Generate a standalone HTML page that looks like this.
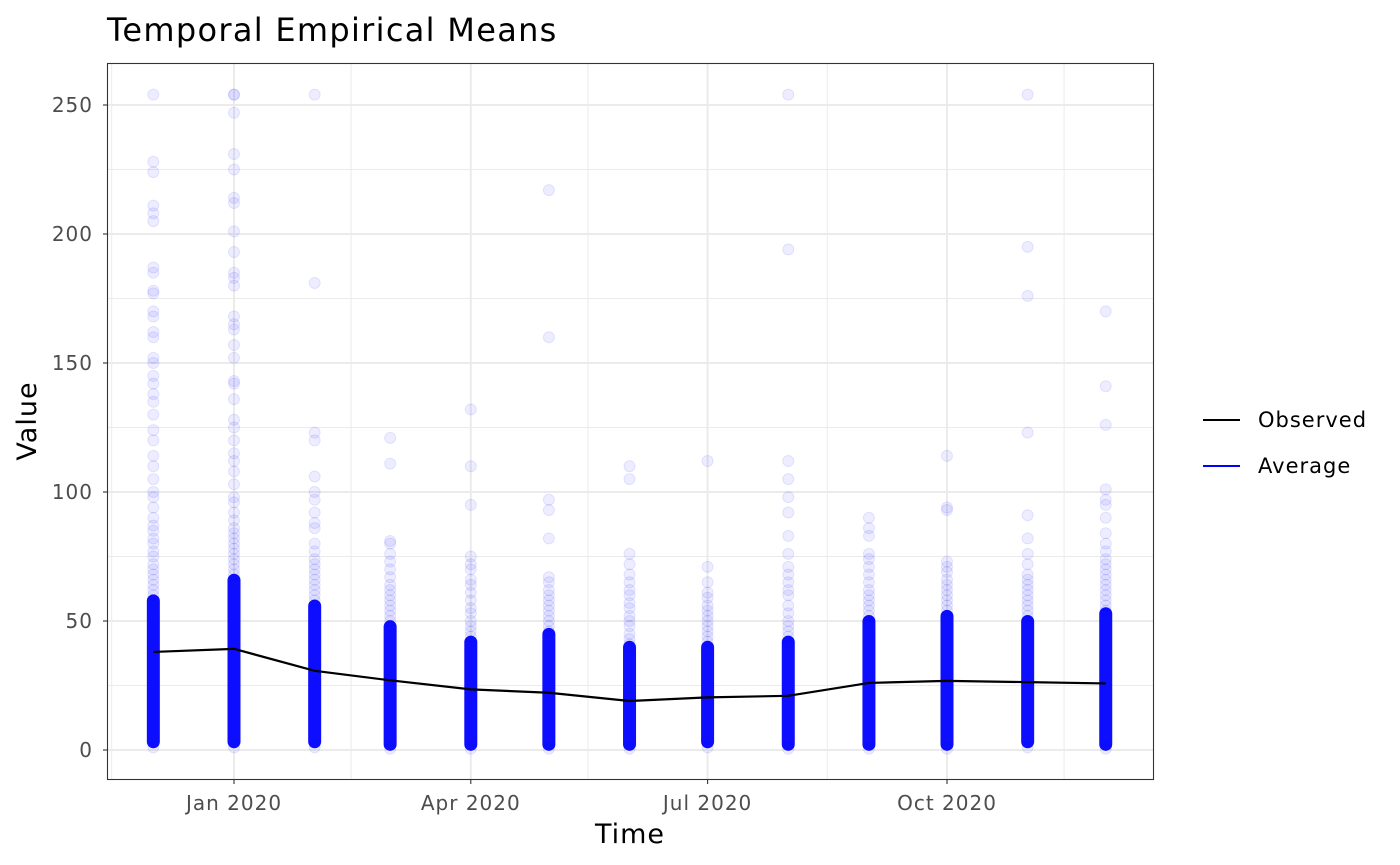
<!DOCTYPE html>
<html><head><meta charset="utf-8">
<style>
body{margin:0;background:#fff;}
svg{display:block;font-family:"DejaVu Sans","Liberation Sans",sans-serif;}
</style></head>
<body>
<svg id="chart" width="1400" height="865">
<rect width="1400" height="865" fill="#fff"/>
<text x="107" y="41" font-size="32" letter-spacing="1.3" fill="#000">Temporal Empirical Means</text>
<g id="grid"></g>
<g id="points"></g>
<g id="line"></g>
<rect x="107.5" y="63.5" width="1046" height="716" fill="none" stroke="#333" stroke-width="1.1"/>
<g id="axes"></g>
<text x="630" y="843" font-size="27" letter-spacing="1" text-anchor="middle">Time</text>
<text transform="translate(36,421) rotate(-90)" font-size="27" letter-spacing="1" text-anchor="middle">Value</text>
<g>
<g>
<line x1="1203" y1="420" x2="1240" y2="420" stroke="#000" stroke-width="2"/>
<text x="1258" y="427" font-size="21" letter-spacing="1">Observed</text></g>
<g>
<line x1="1203" y1="466" x2="1240" y2="466" stroke="#0000ff" stroke-width="2"/>
<text x="1258" y="473" font-size="21" letter-spacing="1">Average</text></g>
</g>
</svg>
<script>
const months = ["2019-12-01","2020-01-01","2020-02-01","2020-03-01","2020-04-01","2020-05-01","2020-06-01","2020-07-01","2020-08-01","2020-09-01","2020-10-01","2020-11-01","2020-12-01"];
const observed = [38,39.2,30.7,27,23.5,22.2,19,20.4,21,26,26.8,26.3,25.8];
const denseLo = [3,3,3,2,2,2,2,3,2,2,2,3,2];
const denseHi = [58,66,56,48,42,45,40,40,42,50,52,50,53];
const outliers = [
 [254,228,224,211,208,205,187,185,178,177,170,168,162,160,152,150,145,142,138,135,130,124,120,114,110,105,100,98,94,90,87,85,82,80,77,75,72,70,68,66,64,62,60,1],
 [254,254,247,231,225,214,212,201,193,185,183,180,168,165,163,157,152,143,142,136,128,125,120,115,112,108,103,98,96,92,89,86,84,82,80,78,76,74,72,70,68,1],
 [254,181,123,120,106,100,97,92,88,86,80,77,74,72,70,68,66,64,62,60,58,1],
 [121,111,81,80,76,73,70,67,64,62,60,58,56,54,52,50,0.5],
 [132,110,95,75,72,70,66,64,61,58,55,53,50,48,46,44,0.5],
 [217,160,97,93,82,67,65,62,60,58,56,54,52,50,48,46,0.5],
 [110,105,76,72,68,65,62,60,57,55,52,50,48,45,43,41,0.5],
 [112,71,65,61,59,56,54,52,50,48,46,44,42,1],
 [254,194,112,105,98,92,83,76,71,68,65,62,60,56,53,50,48,46,44,42,0.5],
 [90,86,83,76,74,71,68,65,62,60,58,56,54,52,50,0.5],
 [114,94,93,73,71,69,66,64,62,60,58,56,54,0.5],
 [254,195,176,123,91,82,76,72,68,66,64,62,60,58,56,54,52,50,1],
 [170,141,126,101,97,95,90,84,80,77,74,72,70,68,66,64,62,60,58,56,54,0.5]
];
const yTicks = [0,50,100,150,200,250];
const yMinor = [25,75,125,175,225];
const xTickLabels = ["Jan 2020","Apr 2020","Jul 2020","Oct 2020"];
const xTickDates = ["2020-01-01","2020-04-01","2020-07-01","2020-10-01"];
const xMinorDates = ["2019-11-15","2020-02-15","2020-05-16","2020-08-16","2020-11-15"];

const NS="http://www.w3.org/2000/svg";
const t0=Date.parse("2020-01-01"), t1=Date.parse("2020-10-01");
const x=d=>234+(Date.parse(d)-t0)/(t1-t0)*(947-234);
const y=v=>750-v*(750-105)/250;
function mk(tag,attrs,parent){const e=document.createElementNS(NS,tag);for(const k in attrs)e.setAttribute(k,attrs[k]);parent.appendChild(e);return e;}
const grid=document.getElementById('grid'),pts=document.getElementById('points'),ln=document.getElementById('line'),ax=document.getElementById('axes');
yMinor.forEach(v=>{const e=mk('line',{x1:108,x2:1153,y1:y(v),y2:y(v),stroke:'#ebebeb','stroke-width':1},grid);

});
xMinorDates.forEach(d=>{const e=mk('line',{x1:x(d),x2:x(d),y1:64,y2:779,stroke:'#ebebeb','stroke-width':1},grid);

});
yTicks.forEach(v=>{const e=mk('line',{x1:108,x2:1153,y1:y(v),y2:y(v),stroke:'#ebebeb','stroke-width':2},grid);


const t=mk('line',{x1:103,x2:107,y1:y(v),y2:y(v),stroke:'#333','stroke-width':1.1},ax);


const l=mk('text',{x:93,y:y(v)+7,'font-size':20,'letter-spacing':1,'text-anchor':'end',fill:'#4d4d4d'},ax);l.textContent=v;

});
xTickDates.forEach((d,i)=>{const e=mk('line',{x1:x(d),x2:x(d),y1:64,y2:779,stroke:'#ebebeb','stroke-width':2},grid);


const t=mk('line',{x1:x(d),x2:x(d),y1:780,y2:784,stroke:'#333','stroke-width':1.1},ax);


const l=mk('text',{x:x(d),y:810,'font-size':20,'letter-spacing':1,'text-anchor':'middle',fill:'#4d4d4d'},ax);l.textContent=xTickLabels[i];

});
months.forEach((m,i)=>{const cx=x(m);
const r=mk('rect',{x:cx-6.5,y:y(denseHi[i])-6,width:13,height:y(denseLo[i])-y(denseHi[i])+12,rx:6.5,fill:'#0d0dff'},pts);


outliers[i].forEach(v=>{const c=mk('circle',{cx:cx,cy:y(v),r:5.5,fill:'rgba(0,0,255,0.07)',stroke:'rgba(0,0,255,0.09)','stroke-width':1},pts);

});});
const p=mk('polyline',{points:months.map((m,i)=>x(m)+','+y(observed[i])).join(' '),fill:'none',stroke:'#000','stroke-width':2.2},ln);


</script>
</body></html>
